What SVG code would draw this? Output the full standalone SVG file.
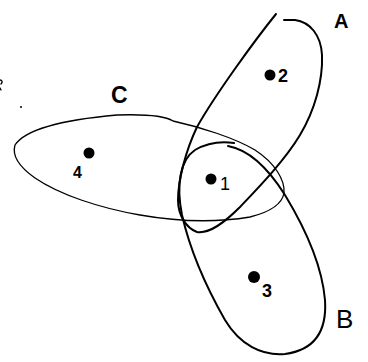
<svg xmlns="http://www.w3.org/2000/svg" width="368" height="362" viewBox="0 0 368 362">
<style>
.set{fill:none;stroke:#000;stroke-linecap:round;stroke-linejoin:round}
.thick{stroke-width:2}
.thin{stroke-width:1.3}
.pt{fill:#000}
.lbl{font-family:"Liberation Sans",Arial,sans-serif;fill:#000}
</style>
<rect width="368" height="362" fill="#fff"/>
<g id="set-C">
<path class="set thin" d="M15,145 C25,130 60,120 117,115 C145,114 165,116 173,121 C200,127 235,138 255,150 C275,163 285,180 284,193 C282,205 270,212 250,217 C220,222 180,222 140,215 C100,208 60,195 35,178 C18,166 12,155 15,145 Z"/>
<text class="lbl" x="111" y="103" font-size="23" font-weight="bold">C</text>
</g>
<g id="set-A">
<path class="set thick" d="M276,14 C255,40 215,95 197,127 C186,150 178,180 178,200 C178,215 186,228 197,232 C210,234 225,222 240,207 C260,186 285,160 300,135 C315,110 323,80 322,55 C321,35 310,22 295,20 L284,20"/>
<text class="lbl" x="334" y="28" font-size="20" font-weight="bold">A</text>
</g>
<g id="set-B">
<path class="set thick" d="M228,146 C250,150 268,168 285,195 C305,228 322,265 325,300 C327,330 315,350 285,354 C262,356 240,345 225,320 C205,285 190,250 182,215 C176,185 180,160 195,150 C207,143 220,141 234,143"/>
<text class="lbl" x="336" y="328" font-size="26">B</text>
</g>
<g id="point-1">
<circle class="pt" cx="211" cy="179" r="5.5"/>
<text class="lbl" x="220" y="190" font-size="18">1</text>
</g>
<g id="point-2">
<circle class="pt" cx="270" cy="75" r="5.5"/>
<text class="lbl" x="278" y="82" font-size="18" font-weight="bold">2</text>
</g>
<g id="point-3">
<circle class="pt" cx="254" cy="277" r="6"/>
<text class="lbl" x="262" y="297" font-size="18" font-weight="bold">3</text>
</g>
<g id="point-4">
<circle class="pt" cx="89" cy="153" r="5.5"/>
<text class="lbl" x="73" y="178" font-size="16" font-weight="bold">4</text>
</g>
<g id="marks">
<circle class="pt" cx="21" cy="107" r="1"/>
<path class="set thin" d="M0,80 C2,80 3,82 1,84 M0,88 L1,90"/>
</g>
<g id="connectors"/>
</svg>
